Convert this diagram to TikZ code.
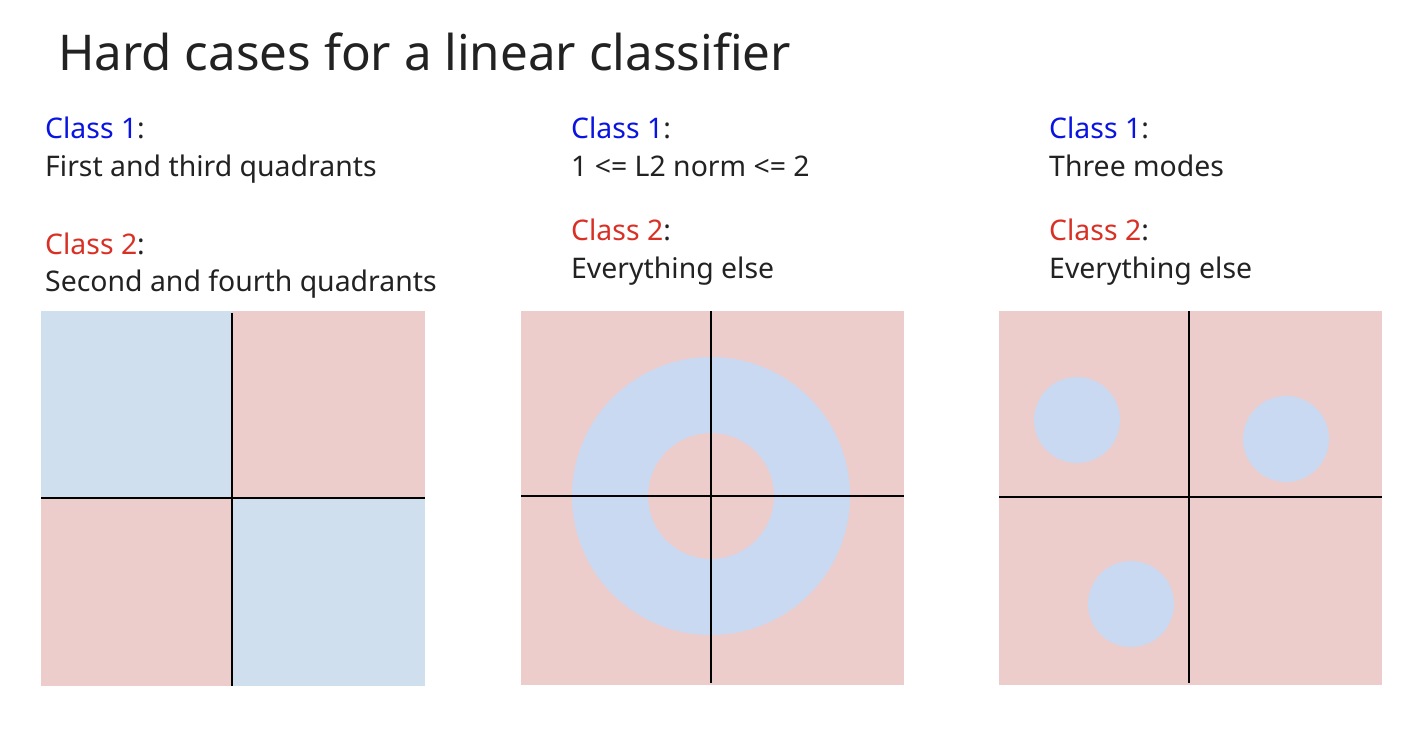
\documentclass[tikz,border=0pt]{standalone}
\usepackage{fontspec}
\setmainfont{Noto Sans}
\definecolor{pk}{HTML}{EDCDCB}
\definecolor{bq}{HTML}{D0DFEE}
\definecolor{bc}{HTML}{C9D9F2}
\definecolor{cb}{HTML}{0A14E0}
\definecolor{cr}{HTML}{D93025}
\definecolor{tx}{HTML}{222222}
\begin{document}
\begin{tikzpicture}[x=1pt,y=-1pt,
 txt/.style={anchor=base west,inner sep=0pt,font=\fontsize{28.4}{32}\selectfont,text=tx},
 ax/.style={line width=2.6pt,black}]
\useasboundingbox (0,0) rectangle (1426,732);
\node[anchor=base west,inner sep=0pt,font=\fontsize{49.3}{56}\selectfont,text=tx] (title) at (58,70) {Hard cases for a linear classifier};
% panel 1 text
\node[txt] (a1) at (45,138) {\textcolor{cb}{Class 1}:};
\node[txt] (a2) at (45,176) {First and third quadrants};
\node[txt] (a3) at (45,254) {\textcolor{cr}{Class 2}:};
\node[txt] (a4) at (45,291) {Second and fourth quadrants};
% panel 2 text
\node[txt] (b1) at (571,138) {\textcolor{cb}{Class 1}:};
\node[txt] (b2) at (571,176) {1 <= L2 norm <= 2};
\node[txt] (b3) at (571,240) {\textcolor{cr}{Class 2}:};
\node[txt] (b4) at (571,278) {Everything else};
% panel 3 text
\node[txt] (c1) at (1049,138) {\textcolor{cb}{Class 1}:};
\node[txt] (c2) at (1049,176) {Three modes};
\node[txt] (c3) at (1049,240) {\textcolor{cr}{Class 2}:};
\node[txt] (c4) at (1049,278) {Everything else};
% panel 1
\fill[pk] (41,311) rectangle (425,686);
\fill[bq] (41,311) rectangle (232,498);
\fill[bq] (232,498) rectangle (425,686);
\draw[ax] (232,313) -- (232,686);
\draw[ax] (41,498) -- (425,498);
% panel 2
\fill[pk] (521,311) rectangle (904,685);
\fill[bc,even odd rule] (711,496) circle (139) (711,496) circle (63);
\draw[ax] (711,311) -- (711,683);
\draw[ax] (521,496) -- (904,496);
% panel 3
\fill[pk] (999,311) rectangle (1382,685);
\fill[bc] (1077,420) circle (43);
\fill[bc] (1286,439) circle (43);
\fill[bc] (1131,604) circle (43);
\draw[ax] (1189,311) -- (1189,683);
\draw[ax] (999,497) -- (1382,497);
\end{tikzpicture}
\end{document}
